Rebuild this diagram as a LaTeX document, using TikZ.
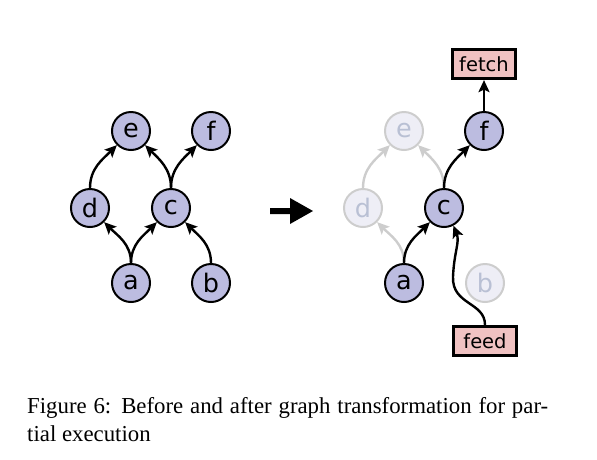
\documentclass[tikz,border=0pt]{standalone}
\usepackage{fontspec}
\setmainfont{Liberation Serif}
\newfontfamily\nodefont{DejaVu Sans}
\usetikzlibrary{arrows.meta}
\definecolor{nodefill}{RGB}{188,188,224}
\definecolor{fadefill}{RGB}{238,238,246}
\definecolor{fadedraw}{RGB}{205,205,205}
\definecolor{fadetext}{RGB}{185,192,212}
\definecolor{boxfill}{RGB}{240,194,194}
\tikzset{
  opnode/.style={circle, draw=black, fill=nodefill, line width=2pt, minimum size=38pt, inner sep=0pt, font=\nodefont\fontsize{25.5}{25.5}\selectfont, text=black},
  fadenode/.style={opnode, draw=fadedraw, fill=fadefill, text=fadetext},
  iobox/.style={rectangle, draw=black, fill=boxfill, line width=3.2pt, minimum width=63pt, minimum height=29pt, inner sep=0pt, font=\nodefont\fontsize{19.5}{19.5}\selectfont},
  edge/.style={line width=2.4pt, draw=black, -{Stealth[length=12pt,width=11pt,inset=2.5pt]}},
  fadeedge/.style={edge, draw=fadedraw, color=fadedraw},
}
\begin{document}
\begin{tikzpicture}[x=1pt,y=1pt]
\useasboundingbox (0,0) rectangle (597,-459);
% left graph
\node[opnode] (e1) at (131,-131) {e};
\node[opnode] (f1) at (211,-131) {f};
\node[opnode] (d1) at (90,-208) {d};
\node[opnode] (c1) at (171,-208) {c};
\node[opnode] (a1) at (131,-283) {a};
\node[opnode] (b1) at (211,-283) {b};
\draw[edge] (a1.north) to[out=90,in=-45] (d1);
\draw[edge] (a1.north) to[out=90,in=-135] (c1);
\draw[edge] (b1.north) to[out=90,in=-45] (c1);
\draw[edge] (d1.north) to[out=90,in=-135] (e1);
\draw[edge] (c1.north) to[out=90,in=-45] (e1);
\draw[edge] (c1.north) to[out=90,in=-135] (f1);
% big arrow
\fill[black] (270,-208) -- (290,-208) -- (290,-198) -- (313,-211) -- (290,-224) -- (290,-214) -- (270,-214) -- cycle;
% right graph
\node[fadenode] (e2) at (404,-131) {e};
\node[opnode] (f2) at (484,-131) {f};
\node[fadenode] (d2) at (363,-208) {d};
\node[opnode] (c2) at (444,-208) {c};
\node[opnode] (a2) at (404,-283) {a};
\node[fadenode] (b2) at (485,-283) {b};
\node[iobox] (fetch) at (484,-64) {fetch};
\node[iobox] (feed) at (485,-341) {feed};
\draw[fadeedge] (a2.north) to[out=90,in=-45] (d2);
\draw[fadeedge] (d2.north) to[out=90,in=-135] (e2);
\draw[fadeedge] (c2.north) to[out=90,in=-45] (e2);
\draw[edge] (a2.north) to[out=90,in=-135] (c2);
\draw[edge] (c2.north) to[out=90,in=-135] (f2);
\draw[edge] (f2.north) -- (fetch.south);
\draw[edge] (feed.north) .. controls (485,-302) and (452,-305) .. (453,-277) .. controls (454,-252) and (460,-242) .. (c2.-62);
% caption
\node[anchor=base west, inner sep=0pt, font=\fontsize{22.8}{27}\selectfont] (cap1) at (27,-413) {\makebox[521pt][s]{Figure 6: Before and after graph transformation for par-}};
\node[anchor=base west, inner sep=0pt, font=\fontsize{22.8}{27}\selectfont] (cap2) at (27,-441) {tial execution};
\end{tikzpicture}
\end{document}
